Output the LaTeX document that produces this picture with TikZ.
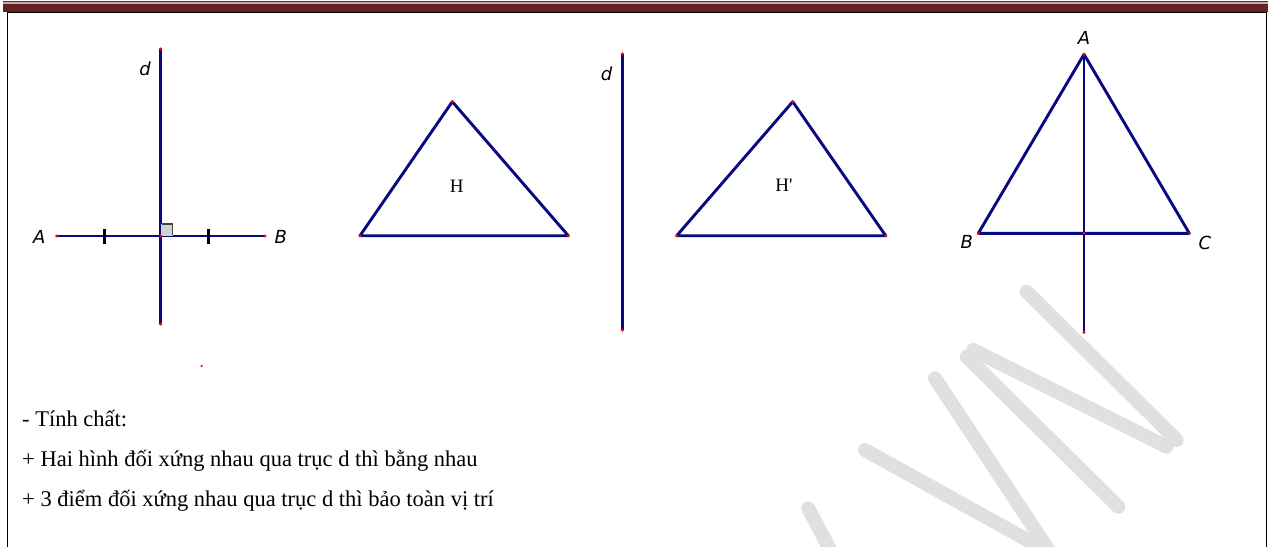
\documentclass[tikz,border=0pt]{standalone}
\usepackage{fontspec}
\setmainfont{Liberation Serif}
\newfontfamily\lblfont{DejaVu Sans}
\newfontfamily\hfont{Liberation Serif}[Ligatures=TeXOff]
\usetikzlibrary{calc}
\definecolor{lineBlue}{RGB}{8,8,128}
\definecolor{headRed}{RGB}{98,36,35}
\definecolor{headPink}{RGB}{205,170,168}
\definecolor{wmGray}{RGB}{224,224,224}
\tikzset{
  seg/.style={lineBlue, line width=2.9pt, line cap=round},
  dot/.style={circle, fill=red, inner sep=0pt, minimum size=3.2pt},
  lbl/.style={font=\lblfont\itshape\fontsize{18}{18}\selectfont, inner sep=0pt},
  hlbl/.style={font=\hfont\fontsize{19}{19}\selectfont, inner sep=0pt},
  body/.style={font=\fontsize{22.5}{22.5}\selectfont, anchor=base west, inner sep=0pt},
  wm/.style={wmGray, line width=14pt, line cap=round}
}

\begin{document}
\begin{tikzpicture}[x=1pt, y=-1pt]
\useasboundingbox (0,0) rectangle (1268,546);
\clip (0,0) rectangle (1268,546);
% watermark
\draw[wm] (1026.7,291.7) -- (1176.7,440);
\draw[wm] (1166.7,446.7) -- (973.3,350);
\draw[wm] (966.7,356.7) -- (1118.3,506.7);
\draw[wm] (935,378.3) -- (1075,590);
\draw[wm] (865,450) -- (1085,572);
\draw[wm] (808.3,508.3) -- (845,578);
% header band and frame
\fill[headRed] (3,1) rectangle (1268,1.8);
\fill[headPink] (3,1.8) rectangle (1268,4);
\fill[headRed] (3,4) rectangle (1268,12);
\draw[line width=1.3pt] (7.3,560) -- (7.3,12.7) -- (1266.7,12.7) -- (1266.7,560);

% figure 1: A, B symmetric about d
\coordinate (d1t) at (160.7,49);
\coordinate (d1b) at (160.7,324);
\coordinate (A1) at (56.7,236);
\coordinate (B1) at (265,236);
\coordinate (M1) at (160.7,236);
\draw[seg] (d1t) -- (d1b);
\draw[seg] (A1) -- (B1);
\fill[gray!35] (M1) rectangle ++(12,-12);
\draw[black!75, line width=1.5pt] ($(M1)+(1.5,-12)$) -- ++(10.5,0) -- ++(0,10.5);
\foreach \x in {104.3,208.3} \draw[line width=2.5pt] (\x,228.5) -- (\x,243.5);
\node[lbl] (ld1) at (145,68.3) {d};
\node[lbl] (lA1) at (39.3,236.7) {A};
\node[lbl] (lB1) at (280.7,236.7) {B};

% figure 2: H and H'
\coordinate (H1) at (452.3,101.7);
\coordinate (H2) at (360,235.7);
\coordinate (H3) at (568.3,235.7);
\coordinate (K1) at (792.7,101.7);
\coordinate (K2) at (676.7,235.7);
\coordinate (K3) at (885.7,235.7);
\coordinate (d2t) at (622.3,54);
\coordinate (d2b) at (622.3,330);
\draw[seg, line join=round] (H1) -- (H2) -- (H3) -- cycle;
\draw[seg, line join=round] (K1) -- (K2) -- (K3) -- cycle;
\draw[seg] (d2t) -- (d2b);
\node[hlbl] (lH) at (456.7,186) {H};
\node[hlbl] (lK) at (784,185) {H'};
\node[lbl] (ld2) at (606.7,73.3) {d};

% figure 3: triangle ABC with axis
\coordinate (A3) at (1084,54.3);
\coordinate (B3) at (978.3,233.3);
\coordinate (C3) at (1189.3,233.3);
\coordinate (M3) at (1084,233.3);
\coordinate (E3) at (1084,332.3);
\draw[seg, line join=round] (A3) -- (B3) -- (C3) -- cycle;
\draw[seg] (A3) -- (E3);
\node[lbl] (lA3) at (1084,37.5) {A};
\node[lbl] (lB3) at (966.7,242) {B};
\node[lbl] (lC3) at (1205,243) {C};

\foreach \p in {d1t,d1b,A1,B1,M1,H1,H2,H3,K1,K2,K3,d2t,d2b,A3,B3,C3,M3,E3}
  \node[dot] at (\p) {};
\node[dot, minimum size=2.5pt] (stray) at (201.7,366) {};

% text
\node[body] (t1) at (22,426) {- Tính chất:};
\node[body] (t2) at (22,466) {+ Hai hình đối xứng nhau qua trục d thì bằng nhau};
\node[body] (t3) at (22,506) {+ 3 điểm đối xứng nhau qua trục d thì bảo toàn vị trí};
\end{tikzpicture}
\end{document}
